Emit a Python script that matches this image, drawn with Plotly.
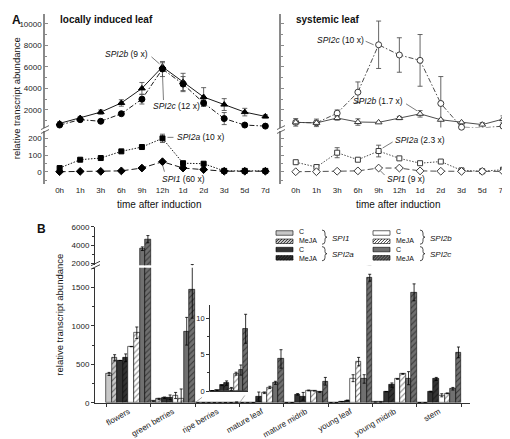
import plotly.graph_objects as go

W, H = 510, 439
FONT = "Liberation Sans, Arial, Helvetica, sans-serif"

def PX(x): return x / W
def PY(y): return 1 - y / H
def dom_x(a, b): return [a / W, b / W]
def dom_y(top, bottom): return [1 - bottom / H, 1 - top / H]

# ---------------- Panel A data ----------------
times = ["0h", "1h", "3h", "6h", "9h", "12h", "1d", "2d", "3d", "5d", "7d"]
idx = list(range(len(times)))

loc_spi2b = [750, 1250, 1800, 2650, 4000, 6000, 4600, 3200, 2500, 1800, 1400]
loc_spi2b_err = [150, 150, 200, 300, 550, 380, 800, 870, 550, 350, 150]
loc_spi2c = [600, 1100, 950, 1650, 3000, 5800, 4400, 2650, 1200, 600, 500]
loc_spi2c_err = [100, 100, 100, 100, 450, 700, 700, 300, 560, 50, 50]
loc_spi2a = [22, 72, 82, 122, 148, 200, 51, 48, 5, 5, 5]
loc_spi2a_err = [5, 5, 5, 5, 5, 25, 5, 5, 3, 3, 3]
loc_spi1 = [0, 2, 2, 5, 22, 60, 22, 13, 3, 3, 3]
loc_spi1_err = [1, 1, 1, 2, 3, 5, 3, 2, 1, 1, 1]

sys_spi2b = [850, 800, 1250, 880, 850, 1250, 1640, 1090, 850, 640, 1150]
sys_spi2b_err = [350, 350, 200, 300, 0, 150, 300, 50, 50, 50, 300]
sys_spi2c = [850, 800, 1700, 3650, 8050, 7100, 6600, 2600, 400, 330, 500]
sys_spi2c_err = [100, 100, 300, 950, 2200, 1600, 2400, 2500, 80, 500, 80]
sys_spi2a = [57, 28, 114, 72, 124, 80, 51, 61, 8, 3, 12]
sys_spi2a_err = [8, 5, 30, 8, 35, 5, 5, 5, 3, 3, 5]
sys_spi1 = [0, 0, 3, 5, 22, 22, 5, 3, 2, 2, 2]
sys_spi1_err = [1, 1, 1, 1, 3, 3, 1, 1, 1, 1, 1]

# ---------------- Panel B data ----------------
tissues = ["flowers", "green berries", "ripe berries", "mature leaf",
           "mature midrib", "young leaf", "young midrib", "stem"]
spi1_c = [375, 22, 0.05, 1, 2, 2, 10, 3]
spi1_c_err = [20, 3, 0.02, 0, 0, 0, 0, 0]
spi1_m = [585, 50, 0.1, 1, 3, 3, 10, 3]
spi1_m_err = [40, 8, 0.02, 0, 0, 0, 0, 0]
spi2a_c = [550, 65, 0.8, 3, 110, 15, 145, 145]
spi2a_c_err = [0, 10, 0.05, 0, 10, 0, 0, 5]
spi2a_m = [585, 72, 1.1, 80, 85, 30, 230, 310]
spi2a_m_err = [50, 30, 0.3, 60, 50, 5, 28, 20]
spi2b_c = [730, 95, 0.3, 130, 160, 320, 310, 98]
spi2b_c_err = [0, 40, 0.2, 10, 5, 45, 5, 20]
spi2b_m = [910, 60, 2.4, 200, 155, 535, 375, 123]
spi2b_m_err = [75, 120, 0.2, 15, 0, 55, 5, 5]
spi2c_c = [3600, 930, 2.9, 260, 140, 310, 320, 183]
spi2c_c_err = [200, 180, 0.7, 20, 5, 55, 85, 17]
spi2c_m = [4650, 1475, 8.6, 570, 280, 1625, 1435, 655]
spi2c_m_err = [400, 375, 2.0, 120, 50, 45, 110, 70]

C_SPI1, C_SPI2A, C_SPI2B, C_SPI2C = "#c8c8c8", "#333333", "#ffffff", "#707070"
bar_series = [
    (spi1_c, spi1_c_err, C_SPI1, False),
    (spi1_m, spi1_m_err, C_SPI1, True),
    (spi2a_c, spi2a_c_err, C_SPI2A, False),
    (spi2a_m, spi2a_m_err, C_SPI2A, True),
    (spi2b_c, spi2b_c_err, C_SPI2B, False),
    (spi2b_m, spi2b_m_err, C_SPI2B, True),
    (spi2c_c, spi2c_c_err, C_SPI2C, False),
    (spi2c_m, spi2c_m_err, C_SPI2C, True),
]

fig = go.Figure()

# ---------------- Panel A traces ----------------
def line_trace(xa, ya, y, err, symbol, dash, filled, size):
    mc = "black" if filled else "white"
    lc = "black" if filled else "#3a3a3a"
    return go.Scatter(
        x=idx, y=y, xaxis=xa, yaxis=ya, mode="lines+markers",
        line=dict(color=lc, width=0.9, dash=dash),
        marker=dict(symbol=symbol, size=size, color=mc, line=dict(color=lc, width=1)),
        error_y=dict(type="data", array=err, color="#555555", thickness=0.9, width=2.5),
        showlegend=False, cliponaxis=False, hoverinfo="skip")

D_2B, D_2C, D_2A, D_1 = "solid", "5px,2px,1.5px,2px", "1.5px,1.5px", "6px,3px"
fig.add_trace(line_trace("x", "y", loc_spi2b, loc_spi2b_err, "triangle-up", D_2B, True, 6))
fig.add_trace(line_trace("x", "y", loc_spi2c, loc_spi2c_err, "circle", D_2C, True, 6))
fig.add_trace(line_trace("x2", "y2", loc_spi2a, loc_spi2a_err, "square", D_2A, True, 5))
fig.add_trace(line_trace("x2", "y2", loc_spi1, loc_spi1_err, "diamond", D_1, True, 6))
fig.add_trace(line_trace("x3", "y3", sys_spi2c, sys_spi2c_err, "circle", D_2C, False, 6))
fig.add_trace(line_trace("x3", "y3", sys_spi2b, sys_spi2b_err, "triangle-up", D_2B, False, 6))
fig.add_trace(line_trace("x4", "y4", sys_spi2a, sys_spi2a_err, "square", D_2A, False, 5))
fig.add_trace(line_trace("x4", "y4", sys_spi1, sys_spi1_err, "diamond", D_1, False, 6))

# ---------------- Panel B traces ----------------
def bar_trace(xa, ya, xs, ys, errs, col, hatched):
    return go.Bar(
        x=xs, y=ys, xaxis=xa, yaxis=ya,
        marker=dict(color=col, line=dict(color="black", width=0.6),
                    pattern=dict(shape="/" if hatched else "", fgcolor="black",
                                 bgcolor=col, size=4, solidity=0.25)),
        error_y=dict(type="data", array=errs, color="black", thickness=0.8, width=1.5),
        showlegend=False, hoverinfo="skip")

for xa, ya in (("x5", "y5"), ("x6", "y6")):
    for vals, errs, col, hatched in bar_series:
        fig.add_trace(bar_trace(xa, ya, tissues, vals, errs, col, hatched))
for vals, errs, col, hatched in bar_series:
    fig.add_trace(bar_trace("x7", "y7", [tissues[2]], [vals[2]], [errs[2]], col, hatched))

# ---------------- Axes ----------------
tickfont = dict(family=FONT, size=8, color="#222")
A_LINE = dict(showline=True, linecolor="#8a8a8a", linewidth=1.5, ticks="inside",
              ticklen=3, tickcolor="#8a8a8a", showgrid=False, zeroline=False,
              tickfont=tickfont)
xA_hidden = dict(showgrid=False, zeroline=False, showticklabels=False, ticks="",
                 showline=False)

LX = dom_x(37, 266)
RX = dom_x(273, 507)
UY = dom_y(2, 118)
LY = dom_y(121, 176)
up_range = [364, 10909]
lo_range = [-76, 247]

layout_axes = dict(
    xaxis=dict(domain=LX, range=[-0.71, 10.42], anchor="y", **xA_hidden),
    yaxis=dict(domain=UY, range=up_range, anchor="x", tickvals=[2000, 4000, 6000, 8000, 10000],
               tickformat="d", minor=dict(dtick=1000, ticks="inside", ticklen=2, tickcolor="#8a8a8a"),
               **A_LINE),
    xaxis2=dict(domain=LX, range=[-0.71, 10.42], anchor="y2", tickvals=idx, ticktext=times,
                showgrid=False, zeroline=False, showline=False, ticks="", tickfont=tickfont),
    yaxis2=dict(domain=LY, range=lo_range, anchor="x2", tickvals=[0, 100, 200],
                minor=dict(dtick=50, ticks="inside", ticklen=2, tickcolor="#8a8a8a"), **A_LINE),
    xaxis3=dict(domain=RX, range=[-0.71, 10.58], anchor="y3", **xA_hidden),
    yaxis3=dict(domain=UY, range=up_range, anchor="x3", tickvals=[2000, 4000, 6000, 8000, 10000],
                showticklabels=False,
                minor=dict(dtick=1000, ticks="inside", ticklen=2, tickcolor="#8a8a8a"),
                **{**A_LINE, "linewidth": 2}),
    xaxis4=dict(domain=RX, range=[-0.71, 10.58], anchor="y4", tickvals=idx, ticktext=times,
                showgrid=False, zeroline=False, showline=False, ticks="", tickfont=tickfont),
    yaxis4=dict(domain=LY, range=lo_range, anchor="x4", tickvals=[0, 100, 200],
                showticklabels=False,
                minor=dict(dtick=50, ticks="inside", ticklen=2, tickcolor="#8a8a8a"),
                **{**A_LINE, "linewidth": 2}),
)

B_X = dom_x(87, 462)
b_xrange = [-0.755, 7.698]
B_LINE = dict(showline=True, linecolor="#333", linewidth=1, ticks="outside", ticklen=3,
              tickcolor="#333", showgrid=False, zeroline=False, tickfont=tickfont)
layout_axes.update(
    xaxis5=dict(domain=B_X, range=b_xrange, anchor="y5", type="category",
                categoryorder="array", categoryarray=tissues, tickangle=-30,
                tickson="boundaries", tickfont=dict(family=FONT, size=8.1, color="#222"),
                showline=True, linecolor="#333", linewidth=1, ticks="outside", ticklen=3,
                tickcolor="#333", showgrid=False, zeroline=False),
    yaxis5=dict(domain=dom_y(261, 399), range=[0, 1756], anchor="x5",
                tickvals=[0, 500, 1000, 1500],
                minor=dict(dtick=250, ticks="outside", ticklen=2, tickcolor="#333"), **B_LINE),
    xaxis6=dict(domain=B_X, range=b_xrange, anchor="y6", type="category",
                categoryorder="array", categoryarray=tissues,
                showticklabels=False, ticks="", showline=False, showgrid=False, zeroline=False),
    yaxis6=dict(domain=dom_y(219, 258.5), range=[1780, 6050], anchor="x6",
                tickvals=[2000, 4000, 6000], tickformat="d",
                minor=dict(dtick=1000, ticks="outside", ticklen=2, tickcolor="#333"), **B_LINE),
    xaxis7=dict(domain=dom_x(202, 240), range=[-0.5, 0.5], anchor="y7", type="category",
                showticklabels=False, ticks="", showline=True, linecolor="#333", linewidth=0.8,
                showgrid=False, zeroline=False),
    yaxis7=dict(domain=dom_y(299, 387), range=[0, 11.9], anchor="x7", tickvals=[0, 5, 10],
                minor=dict(dtick=2.5, ticks="outside", ticklen=2, tickcolor="#333"),
                showline=True, linecolor="#333", linewidth=0.8, ticks="outside", ticklen=3,
                tickcolor="#333", showgrid=False, zeroline=False,
                tickfont=dict(family=FONT, size=7.5, color="#222")),
)

# ---------------- Annotations & shapes ----------------
ann = []
shapes = []

def text(x, y, s, size=9, bold=False, xanchor="left", angle=0, italic=False):
    t = s
    if bold:
        t = "<b>" + t + "</b>"
    if italic:
        t = "<i>" + t + "</i>"
    ann.append(dict(x=PX(x), y=PY(y), xref="paper", yref="paper", text=t, showarrow=False,
                    xanchor=xanchor, yanchor="middle", textangle=angle,
                    font=dict(family=FONT, size=size, color="#111")))

text(2, 8, "A", size=12, bold=True)
text(27, 222, "B", size=12, bold=True)
text(50, 8, "locally induced leaf", size=10, bold=True)
text(286, 8, "systemic leaf", size=10, bold=True)
text(151, 197, "time after induction", size=10, xanchor="center")
text(390, 197, "time after induction", size=10, xanchor="center")
text(8, 88, "relative transcript abundance", size=9.5, xanchor="center", angle=-90)
text(52, 309, "relative transcript abundance", size=9.5, xanchor="center", angle=-90)

# curve labels with leader lines, anchored to data points
labels = [
    ("x", "y", 5, loc_spi2b[5], "<i>SPI2b</i> (9 x)", "right", -12, -13, (-11, -10, -3, -3)),
    ("x", "y", 5, loc_spi2c[5], "<i>SPI2c</i> (12 x)", "left", -11, 37, (0, 5, 1, 31)),
    ("x2", "y2", 5, loc_spi2a[5], "<i>SPI2a</i> (10 x)", "left", 13, -1, (5, -1, 11, -1)),
    ("x2", "y2", 5, loc_spi1[5], "<i>SPI1</i> (60 x)", "left", -2, 17, (0, 3, 2, 10)),
    ("x3", "y3", 4, sys_spi2c[4], "<i>SPI2c</i> (10 x)", "right", -13, -5, (-13, -3.5, -5, 0)),
    ("x3", "y3", 6, sys_spi2b[6], "<i>SPI2b</i> (1.7 x)", "right", -15, -13, (-14, -10, -3, -3)),
    ("x4", "y4", 4, sys_spi2a[4], "<i>SPI2a</i> (2.3 x)", "left", 14, -11, (4, -3, 14, -9)),
    ("x4", "y4", 4, sys_spi1[4], "<i>SPI1</i> (9 x)", "left", 6, 11, (2, 3, 6, 7)),
]
for xa, ya, i, v, s, xanc, dx, dy, (lx0, ly0, lx1, ly1) in labels:
    ann.append(dict(x=i, y=v, xref=xa, yref=ya, text=s, showarrow=False, xanchor=xanc,
                    yanchor="middle", xshift=dx, yshift=-dy,
                    font=dict(family=FONT, size=8.5, color="#111")))
    shapes.append(dict(type="line", xref=xa, yref=ya, xsizemode="pixel", ysizemode="pixel",
                       xanchor=i, yanchor=v, x0=lx0, x1=lx1, y0=-ly0, y1=-ly1,
                       line=dict(color="#444", width=0.7)))

def pline(x0, y0, x1, y1, color="#222", width=1, dash="solid"):
    shapes.append(dict(type="line", xref="paper", yref="paper", x0=PX(x0), y0=PY(y0),
                       x1=PX(x1), y1=PY(y1), line=dict(color=color, width=width, dash=dash)))

# axis break marks
for ax_x in (37, 273):
    pline(ax_x - 4, 120, ax_x + 4, 116, "#555", 0.9)
    pline(ax_x - 4, 124, ax_x + 4, 120, "#555", 0.9)
pline(83, 259, 92, 254.5, "#333", 0.9)
pline(83, 262.5, 92, 258, "#333", 0.9)

# inset connectors
pline(187, 399, 202, 387, "#999", 0.8, "dash")
pline(231.5, 399, 240, 387, "#999", 0.8, "dash")

# ---------------- Legend (drawn) ----------------
def rect(x0, y0, x1, y1, fill):
    shapes.append(dict(type="rect", xref="paper", yref="paper", x0=PX(x0), x1=PX(x1),
                       y0=PY(y1), y1=PY(y0), fillcolor=fill,
                       line=dict(color="black", width=0.6)))

def hatch(x0, y0, x1, y1, spacing=3):
    h = y1 - y0
    parts = []
    a = x0 - h
    while a < x1:
        t0 = max(0.0, (x0 - a) / h)
        t1 = min(1.0, (x1 - a) / h)
        if t0 < t1:
            xa_, ya_ = a + t0 * h, y1 - t0 * h
            xb_, yb_ = a + t1 * h, y1 - t1 * h
            parts.append("M%.5f,%.5f L%.5f,%.5f" % (PX(xa_), PY(ya_), PX(xb_), PY(yb_)))
        a += spacing
    shapes.append(dict(type="path", xref="paper", yref="paper", path=" ".join(parts),
                       line=dict(color="black", width=0.7)))

def brace(x, top, bottom):
    mid = (top + bottom) / 2
    pts = ("M{},{} Q{},{} {},{} L{},{} Q{},{} {},{} Q{},{} {},{} L{},{} Q{},{} {},{}").format(
        PX(x), PY(top), PX(x + 3), PY(top), PX(x + 3), PY(top + 3),
        PX(x + 3), PY(mid - 2), PX(x + 3), PY(mid), PX(x + 5), PY(mid),
        PX(x + 3), PY(mid), PX(x + 3), PY(mid + 2),
        PX(x + 3), PY(bottom - 3), PX(x + 3), PY(bottom), PX(x), PY(bottom))
    shapes.append(dict(type="path", xref="paper", yref="paper", path=pts,
                       line=dict(color="#222", width=0.8)))

LEG_FS = 6.5
line_h = LEG_FS * 1.3
leg_center = 238.3
rows = [leg_center + (k - 1.5) * line_h for k in range(4)]
cols = [(268, [C_SPI1, C_SPI1, C_SPI2A, C_SPI2A], 314, ["SPI1", "SPI2a"]),
        (365, [C_SPI2B, C_SPI2B, C_SPI2C, C_SPI2C], 412, ["SPI2b", "SPI2c"])]
for cx, colors, bx, names in cols:
    for r, (ry, col) in enumerate(zip(rows, colors)):
        y0, y1 = ry - 2.3, ry + 2.3
        rect(cx, y0, cx + 17, y1, col)
        if r % 2 == 1:
            hatch(cx, y0, cx + 17, y1)
    ann.append(dict(x=PX(cx + 21), y=PY(leg_center), xref="paper", yref="paper",
                    text="C<br>MeJA<br>C<br>MeJA", showarrow=False, xanchor="left",
                    yanchor="middle", align="left",
                    font=dict(family=FONT, size=LEG_FS + 0.5, color="#111")))
    brace(bx, rows[0] - 3, rows[1] + 3)
    brace(bx, rows[2] - 3, rows[3] + 3)
    text(bx + 8, (rows[0] + rows[1]) / 2 + 1, names[0], size=8, italic=True)
    text(bx + 8, (rows[2] + rows[3]) / 2 + 1, names[1], size=8, italic=True)

fig.update_layout(
    width=W, height=H, margin=dict(l=0, r=0, t=0, b=0),
    paper_bgcolor="white", plot_bgcolor="rgba(0,0,0,0)",
    barmode="group", bargap=0, bargroupgap=0,
    showlegend=False, annotations=ann, shapes=shapes,
    font=dict(family=FONT, size=8, color="#222"),
    **layout_axes,
)

fig.write_html("out.html")
